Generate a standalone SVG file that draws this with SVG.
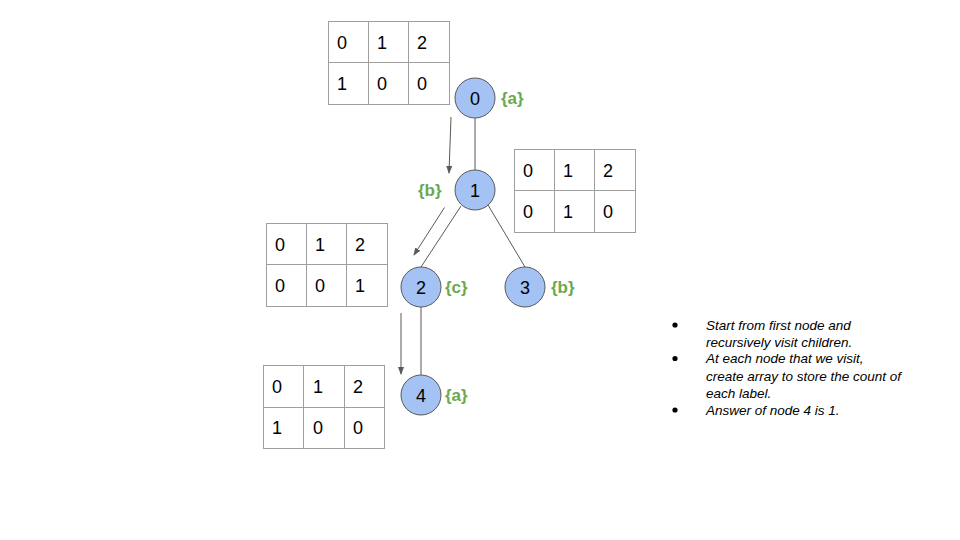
<svg xmlns="http://www.w3.org/2000/svg" width="960" height="540" viewBox="0 0 960 540">
<style>
.tb{fill:#ffffff;stroke:#9e9e9e;stroke-width:1}
.tl{stroke:#9e9e9e;stroke-width:1}
.tt{font-family:"Liberation Sans",Arial,sans-serif;font-size:18px;fill:#000000}
.nd{fill:#a4c2f4;stroke:#595959;stroke-width:1}
.nt{font-family:"Liberation Sans",Arial,sans-serif;font-size:18px;fill:#000000;text-anchor:middle}
.lb{font-family:"Liberation Sans",Arial,sans-serif;font-size:17px;font-weight:bold;fill:#6aa84f}
.ed{stroke:#595959;stroke-width:1;fill:none}
.ar{stroke:#595959;stroke-width:1;fill:none}
.bt{font-family:"Liberation Sans",Arial,sans-serif;font-size:13.5px;font-style:italic;fill:#000000}
</style>
<defs>
<marker id="ah" viewBox="0 0 8 6" refX="7" refY="3" markerWidth="8" markerHeight="6" markerUnits="userSpaceOnUse" orient="auto">
<path d="M0,0 L8,3 L0,6 z" fill="#595959"/>
</marker>
</defs>
<rect width="960" height="540" fill="#ffffff"/>

<g id="table0">
<rect class="tb" x="328.5" y="21.5" width="121" height="83"/>
<line class="tl" x1="368.5" y1="21.5" x2="368.5" y2="104.5"/>
<line class="tl" x1="408.5" y1="21.5" x2="408.5" y2="104.5"/>
<line class="tl" x1="328.5" y1="62.5" x2="449.5" y2="62.5"/>
<text class="tt" x="337" y="48.5">0</text><text class="tt" x="377" y="48.5">1</text><text class="tt" x="417" y="48.5">2</text>
<text class="tt" x="337" y="90">1</text><text class="tt" x="377" y="90">0</text><text class="tt" x="417" y="90">0</text>
</g>

<g id="table1">
<rect class="tb" x="514.5" y="149.5" width="121" height="83"/>
<line class="tl" x1="554.5" y1="149.5" x2="554.5" y2="232.5"/>
<line class="tl" x1="594.5" y1="149.5" x2="594.5" y2="232.5"/>
<line class="tl" x1="514.5" y1="190.5" x2="635.5" y2="190.5"/>
<text class="tt" x="523" y="176.5">0</text><text class="tt" x="563" y="176.5">1</text><text class="tt" x="603" y="176.5">2</text>
<text class="tt" x="523" y="218">0</text><text class="tt" x="563" y="218">1</text><text class="tt" x="603" y="218">0</text>
</g>

<g id="table2">
<rect class="tb" x="266.5" y="223.5" width="121" height="83"/>
<line class="tl" x1="306.5" y1="223.5" x2="306.5" y2="306.5"/>
<line class="tl" x1="346.5" y1="223.5" x2="346.5" y2="306.5"/>
<line class="tl" x1="266.5" y1="264.5" x2="387.5" y2="264.5"/>
<text class="tt" x="275" y="250.5">0</text><text class="tt" x="315" y="250.5">1</text><text class="tt" x="355" y="250.5">2</text>
<text class="tt" x="275" y="292">0</text><text class="tt" x="315" y="292">0</text><text class="tt" x="355" y="292">1</text>
</g>

<g id="table4">
<rect class="tb" x="263.5" y="365.5" width="121" height="83"/>
<line class="tl" x1="303.5" y1="365.5" x2="303.5" y2="448.5"/>
<line class="tl" x1="344.5" y1="365.5" x2="344.5" y2="448.5"/>
<line class="tl" x1="263.5" y1="407.5" x2="384.5" y2="407.5"/>
<text class="tt" x="272" y="392.5">0</text><text class="tt" x="313" y="392.5">1</text><text class="tt" x="353" y="392.5">2</text>
<text class="tt" x="272" y="434">1</text><text class="tt" x="313" y="434">0</text><text class="tt" x="353" y="434">0</text>
</g>

<g id="connectors">
<line class="ed" x1="475" y1="118" x2="475" y2="170"/>
<line class="ed" x1="461" y1="206" x2="421" y2="267"/>
<line class="ed" x1="488" y1="205" x2="525" y2="267"/>
<line class="ed" x1="421" y1="307" x2="421" y2="375"/>
<line class="ar" x1="451" y1="117" x2="449" y2="173" marker-end="url(#ah)"/>
<line class="ar" x1="444.5" y1="207.5" x2="414" y2="255" marker-end="url(#ah)"/>
<line class="ar" x1="401" y1="313" x2="401" y2="374" marker-end="url(#ah)"/>
</g>

<g id="node0">
<circle class="nd" cx="475" cy="98" r="20"/>
<text class="nt" x="475" y="104.5">0</text>
<text class="lb" x="501" y="104">{a}</text>
</g>
<g id="node1">
<circle class="nd" cx="475" cy="190" r="20"/>
<text class="nt" x="475" y="196.5">1</text>
<text class="lb" x="418" y="196">{b}</text>
</g>
<g id="node2">
<circle class="nd" cx="421" cy="287" r="20"/>
<text class="nt" x="421" y="293.5">2</text>
<text class="lb" x="445" y="293">{c}</text>
</g>
<g id="node3">
<circle class="nd" cx="525" cy="287" r="20"/>
<text class="nt" x="525" y="293.5">3</text>
<text class="lb" x="551" y="293">{b}</text>
</g>
<g id="node4">
<circle class="nd" cx="421" cy="395" r="20"/>
<text class="nt" x="421" y="401.5">4</text>
<text class="lb" x="445" y="401">{a}</text>
</g>

<g id="notes">
<circle cx="675" cy="325" r="2.6" fill="#000000"/>
<circle cx="675" cy="358.5" r="2.6" fill="#000000"/>
<circle cx="675" cy="410" r="2.6" fill="#000000"/>
<text class="bt" x="706" y="329.5">Start from first node and</text>
<text class="bt" x="706" y="346.5">recursively visit children.</text>
<text class="bt" x="706" y="363">At each node that we visit,</text>
<text class="bt" x="706" y="381">create array to store the count of</text>
<text class="bt" x="706" y="397.5">each label.</text>
<text class="bt" x="706" y="414.5">Answer of node 4 is 1.</text>
</g>
</svg>
